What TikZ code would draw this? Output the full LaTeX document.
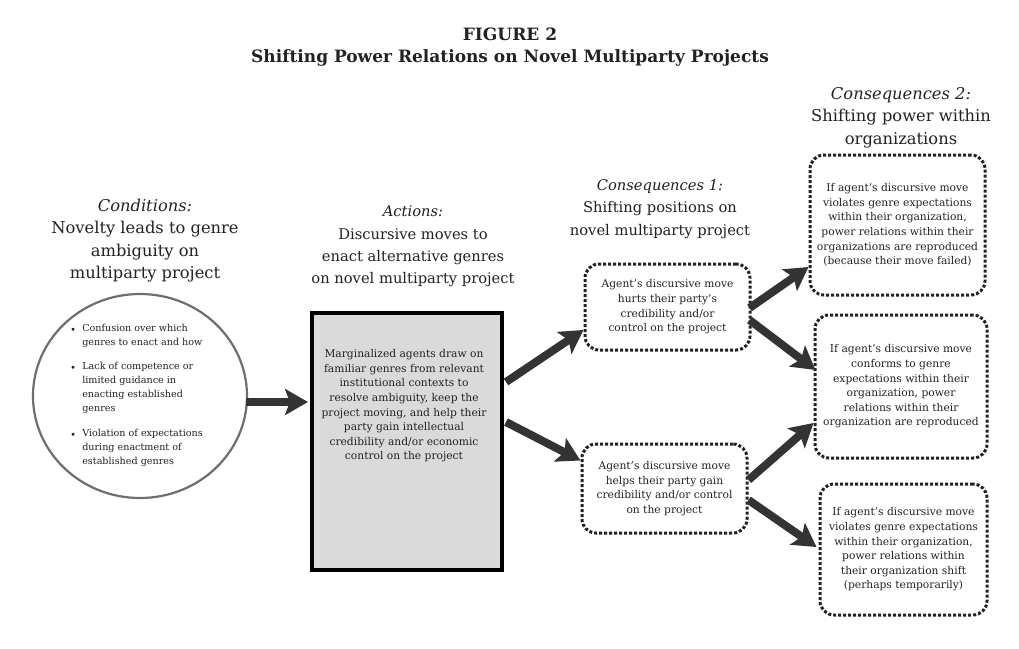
\documentclass[tikz,border=0pt]{standalone}
\usepackage{fontspec}
\setmainfont{DejaVu Serif}
\usetikzlibrary{arrows.meta,calc,shapes.geometric}
\definecolor{ink}{HTML}{222222}
\definecolor{arr}{HTML}{333333}
\definecolor{boxfill}{HTML}{DADADA}
\definecolor{ringc}{HTML}{6E6E6E}
\begin{document}
\begin{tikzpicture}[x=1pt,y=-1pt,
  heading/.style={align=center,text=ink,inner sep=0pt},
  bighead/.style={heading,font=\fontsize{16.3}{22.4}\selectfont},
  smallhead/.style={heading,font=\fontsize{14.7}{22.4}\selectfont},
  body/.style={font=\fontsize{10.7}{14.6}\selectfont,text=ink,align=center,inner sep=0pt},
  dotbox/.style={draw=ink,line width=3pt,dash pattern=on 3pt off 2pt,rounded corners=14pt},
  bigarrow/.style={draw=arr,line width=8pt,-{Stealth[length=23pt,width=26pt,inset=5pt]}},
]
\fill[white] (0,0) rectangle (1019,648);
\useasboundingbox (0,0) rectangle (1019,648);

% title
\node[align=center,font=\fontsize{17}{22}\selectfont\bfseries,text=ink,inner sep=0pt] (title) at (510,47)
  {FIGURE 2\\Shifting Power Relations on Novel Multiparty Projects};

% headings
\node[bighead] (condh) at (145,240.5) {\textit{Conditions:}\\Novelty leads to genre\\ambiguity on\\multiparty project};
\node[smallhead] (acth) at (413,246.5) {\textit{Actions:}\\Discursive moves to\\enact alternative genres\\on novel multiparty project};
\node[smallhead] (c1h) at (660,209) {\textit{Consequences 1:}\\Shifting positions on\\novel multiparty project};
\node[bighead] (c2h) at (901,117.5) {\textit{Consequences 2:}\\Shifting power within\\organizations};

% conditions circle
\node[ellipse,draw=ringc,line width=2.2pt,minimum width=214pt,minimum height=204pt,inner sep=0pt] (circ) at (140,396) {};
\node[anchor=west,text=ink,inner sep=0pt,font=\fontsize{9.6}{14}\selectfont] (condtext) at (71,395)
 {\begin{tabular}{@{}l@{\hspace{7pt}}l@{}}
  {\scriptsize$\bullet$} & Confusion over which\\
   & genres to enact and how\\[10pt]
  {\scriptsize$\bullet$} & Lack of competence or\\
   & limited guidance in\\
   & enacting established\\
   & genres\\[11pt]
  {\scriptsize$\bullet$} & Violation of expectations\\
   & during enactment of\\
   & established genres
 \end{tabular}};

% actions box
\node[draw=black,line width=4pt,fill=boxfill,minimum width=190pt,minimum height=257pt,inner sep=0pt] (act) at (407,441.5) {};
\node[body] (acttext) at (404,406) {Marginalized agents draw on\\familiar genres from relevant\\institutional contexts to\\resolve ambiguity, keep the\\project moving, and help their\\party gain intellectual\\credibility and/or economic\\control on the project};

% consequences 1
\node[dotbox,body,minimum width=165pt,minimum height=86pt] (c1a) at (667.5,307)
  {Agent's discursive move\\hurts their party's\\credibility and/or\\control on the project};
\node[dotbox,body,minimum width=165pt,minimum height=89pt] (c1b) at (664.5,488.5)
  {Agent's discursive move\\helps their party gain\\credibility and/or control\\on the project};

% consequences 2
\node[dotbox,body,minimum width=175pt,minimum height=140pt] (r1) at (897.5,225)
  {If agent's discursive move\\violates genre expectations\\within their organization,\\power relations within their\\organizations are reproduced\\(because their move failed)};
\node[dotbox,body,minimum width=172pt,minimum height=143pt] (r2) at (901,386.5)
  {If agent's discursive move\\conforms to genre\\expectations within their\\organization, power\\relations within their\\organization are reproduced};
\node[dotbox,body,minimum width=167pt,minimum height=131pt] (r3) at (903.5,549.5)
  {If agent's discursive move\\violates genre expectations\\within their organization,\\power relations within\\their organization shift\\(perhaps temporarily)};

% arrows
\draw[bigarrow] ($(circ.east)+(-2,6)$) -- ($(act.west)+(-2,-39.5)$);
\draw[bigarrow] ($(act.east)+(2,-59.5)$) -- ($(c1a.west)+(0,23)$);
\draw[bigarrow] ($(act.east)+(2,-19.5)$) -- ($(c1b.west)+(0,-28)$);
\draw[bigarrow] ($(c1a.east)+(-2,1)$) -- ($(r1.west)+(0,42)$);
\draw[bigarrow] ($(c1a.east)+(-2,13)$) -- ($(r2.west)+(2,-16.5)$);
\draw[bigarrow] ($(c1b.east)+(0,-8.5)$) -- ($(r2.west)+(0,36.5)$);
\draw[bigarrow] ($(c1b.east)+(0,11.5)$) -- ($(r3.west)+(-2,-2.5)$);
\end{tikzpicture}
\end{document}
